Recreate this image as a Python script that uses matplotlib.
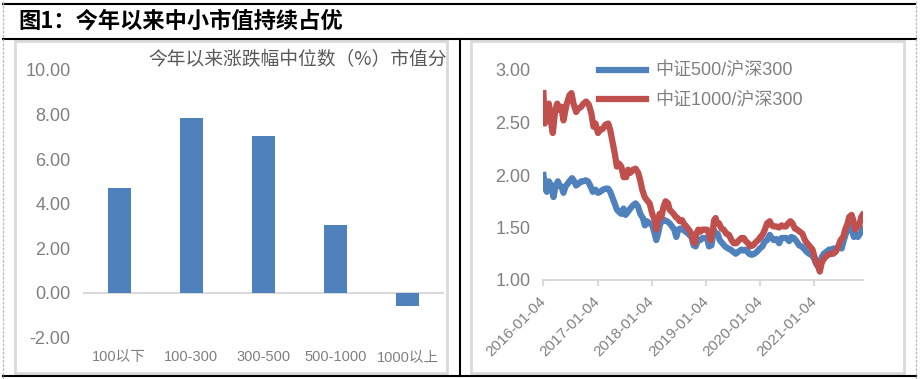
import matplotlib
matplotlib.use('Agg')
import matplotlib.pyplot as plt
from matplotlib.lines import Line2D
from matplotlib.patches import Rectangle

# 字体：西文用 Liberation Sans，中文回退到 Noto Sans CJK SC
plt.rcParams['font.family'] = ['Liberation Sans', 'Noto Sans CJK SC']
plt.rcParams['axes.unicode_minus'] = True

# ---------------- 数据 ----------------
# 左图：今年以来涨跌幅中位数（%），按市值分组（亿元）
groups = ['100以下', '100-300', '300-500', '500-1000', '1000以上']
median_chg = [4.69, 7.84, 7.04, 3.04, -0.58]

# 右图：中证500/沪深300 与 中证1000/沪深300（横轴为交易日序号）
zz500_day = [0, 6, 15, 24, 35, 45, 54, 65, 72, 81, 90, 99, 110, 120, 129, 138, 147, 159,
             170, 180, 189, 200, 210, 222, 234, 245, 255, 267, 279, 291, 300, 309, 320,
             330, 339, 350, 360, 369, 380, 390, 402, 414, 425, 435, 447, 456, 465, 477,
             489, 500, 507, 515, 525, 534, 545, 555, 567, 578, 588, 597, 606, 615, 627,
             639, 651, 665, 675, 684, 695, 705, 714, 725, 735, 744, 755, 765, 774, 783,
             792, 804, 816, 830, 840, 852, 864, 876, 890, 900, 912, 924, 936, 948, 960,
             972, 984, 995, 1005, 1017, 1026, 1035, 1047, 1059, 1070, 1080, 1092, 1104,
             1114, 1125, 1137, 1149, 1160, 1170, 1182, 1194, 1204, 1215, 1224, 1233,
             1242, 1251, 1260, 1272, 1284, 1294, 1305, 1317, 1329, 1340, 1350, 1359,
             1368, 1377, 1386, 1395, 1404, 1413, 1422, 1434]
zz500_ratio = [2.00, 1.89, 1.84, 1.94, 1.90, 1.79, 1.89, 1.94, 1.90, 1.89, 1.83, 1.89,
               1.92, 1.95, 1.97, 1.94, 1.90, 1.92, 1.94, 1.94, 1.95, 1.94, 1.90, 1.84,
               1.86, 1.83, 1.84, 1.86, 1.87, 1.87, 1.84, 1.79, 1.73, 1.67, 1.65, 1.63,
               1.68, 1.62, 1.65, 1.68, 1.71, 1.73, 1.70, 1.63, 1.59, 1.52, 1.56, 1.54,
               1.52, 1.44, 1.38, 1.44, 1.54, 1.56, 1.57, 1.56, 1.54, 1.51, 1.48, 1.41,
               1.48, 1.49, 1.48, 1.46, 1.44, 1.41, 1.33, 1.32, 1.38, 1.38, 1.40, 1.40,
               1.40, 1.32, 1.33, 1.48, 1.44, 1.44, 1.38, 1.35, 1.32, 1.30, 1.29, 1.27,
               1.25, 1.27, 1.29, 1.28, 1.29, 1.25, 1.24, 1.25, 1.27, 1.30, 1.32, 1.37,
               1.38, 1.43, 1.40, 1.38, 1.39, 1.35, 1.40, 1.40, 1.40, 1.37, 1.41, 1.40,
               1.37, 1.33, 1.32, 1.30, 1.27, 1.25, 1.24, 1.21, 1.16, 1.13, 1.16, 1.22,
               1.25, 1.27, 1.29, 1.29, 1.30, 1.30, 1.32, 1.30, 1.38, 1.44, 1.48, 1.51,
               1.48, 1.41, 1.43, 1.41, 1.44, 1.48]
zz1000_day = [0, 6, 15, 24, 35, 42, 53, 62, 72, 80, 90, 99, 105, 117, 126, 135, 147, 156,
              170, 180, 192, 204, 215, 225, 234, 245, 255, 267, 279, 291, 300, 309, 320,
              330, 339, 350, 360, 372, 380, 390, 402, 414, 426, 435, 444, 455, 465, 477,
              489, 500, 507, 515, 522, 530, 540, 549, 560, 567, 576, 585, 594, 603, 612,
              623, 630, 642, 653, 665, 672, 680, 687, 696, 705, 714, 725, 735, 744, 750,
              759, 767, 774, 780, 789, 800, 810, 822, 834, 845, 855, 867, 879, 890, 900,
              909, 920, 930, 942, 954, 965, 975, 984, 995, 1005, 1017, 1026, 1035, 1047,
              1059, 1070, 1080, 1089, 1100, 1110, 1119, 1130, 1140, 1152, 1164, 1175,
              1185, 1197, 1209, 1218, 1227, 1235, 1242, 1250, 1257, 1268, 1280, 1290,
              1302, 1314, 1325, 1335, 1347, 1356, 1367, 1374, 1385, 1392, 1401, 1410,
              1419, 1428, 1434]
zz1000_ratio = [2.78, 2.49, 2.59, 2.68, 2.49, 2.40, 2.62, 2.68, 2.62, 2.65, 2.52, 2.62,
                2.68, 2.76, 2.78, 2.68, 2.60, 2.63, 2.65, 2.68, 2.70, 2.67, 2.59, 2.46,
                2.49, 2.40, 2.43, 2.44, 2.48, 2.49, 2.43, 2.33, 2.21, 2.08, 2.11, 2.08,
                1.98, 1.98, 2.05, 2.02, 2.05, 2.06, 2.02, 1.95, 1.86, 1.79, 1.76, 1.73,
                1.63, 1.57, 1.48, 1.57, 1.63, 1.60, 1.70, 1.75, 1.73, 1.67, 1.65, 1.63,
                1.60, 1.59, 1.56, 1.57, 1.54, 1.51, 1.48, 1.44, 1.38, 1.35, 1.44, 1.48,
                1.46, 1.48, 1.48, 1.48, 1.44, 1.38, 1.44, 1.57, 1.59, 1.54, 1.54, 1.49,
                1.48, 1.44, 1.43, 1.38, 1.35, 1.35, 1.38, 1.40, 1.40, 1.37, 1.35, 1.32,
                1.33, 1.36, 1.38, 1.41, 1.43, 1.48, 1.54, 1.56, 1.52, 1.51, 1.51, 1.50,
                1.52, 1.51, 1.51, 1.54, 1.56, 1.54, 1.49, 1.48, 1.46, 1.44, 1.38, 1.35,
                1.32, 1.29, 1.22, 1.16, 1.13, 1.08, 1.16, 1.19, 1.22, 1.24, 1.25, 1.25,
                1.27, 1.32, 1.38, 1.41, 1.48, 1.54, 1.60, 1.62, 1.57, 1.48, 1.51, 1.52,
                1.60, 1.62]
date_tick_day = [0, 244, 488, 731, 975, 1218]
date_tick_text = ['2016-01-04', '2017-01-04', '2018-01-04', '2019-01-04', '2020-01-04', '2021-01-04']

# ---------------- 样式 ----------------
W, H = 921, 379
grey = '#808080'
light = '#D9D9D9'
blue = '#4F81BD'
red = '#C0504D'


def fx(px):
    return px / W


def fy(py):
    return 1 - py / H


fig = plt.figure(figsize=(W / 100, H / 100), dpi=100)

# 外框线
for (x0, y0, x1, y1) in [(3, 4, 915, 4), (3, 39, 916, 39), (3, 376, 916, 376), (460, 39, 460, 376)]:
    fig.add_artist(Line2D([fx(x0), fx(x1)], [fy(y0), fy(y1)], color='black', lw=1.5))
for xx in (3, 916):
    fig.add_artist(Line2D([fx(xx), fx(xx)], [0, 1], color='#BFBFBF', lw=1, ls=(0, (2, 1))))
# 两个图表区的浅灰边框
for (x0, x1) in [(15, 447), (471, 904)]:
    fig.add_artist(Rectangle((fx(x0), fy(373)), fx(x1) - fx(x0), fy(41) - fy(373),
                             transform=fig.transFigure, fill=False, edgecolor=light, lw=2))

fig.text(fx(18), fy(21), '图1：今年以来中小市值持续占优', fontsize=16, fontweight='bold',
         color='black', ha='left', va='center', family=['Noto Sans CJK SC'])

# ---------------- 左图 ----------------
ax1 = fig.add_axes([fx(83), fy(337.5), fx(444) - fx(83), fy(70) - fy(337.5)])
ax1.bar(range(len(groups)), median_chg, width=0.32, color=blue, zorder=3)
ax1.axhline(0, color=light, lw=1.5, zorder=2)
ax1.set_xlim(-0.5, len(groups) - 0.5)
ax1.set_ylim(-2, 10)
ax1.set_yticks([-2, 0, 2, 4, 6, 8, 10])
ax1.set_yticklabels(['%.2f' % v for v in [-2, 0, 2, 4, 6, 8, 10]])
ax1.set_xticks(range(len(groups)))
ax1.set_xticklabels(groups)
for s in ax1.spines.values():
    s.set_visible(False)
ax1.tick_params(axis='both', length=0, colors=grey)
ax1.tick_params(axis='y', labelsize=13, pad=9)
ax1.tick_params(axis='x', labelsize=10.5, pad=9)
ax1.patch.set_alpha(0)

fig.text(fx(447), fy(60), '今年以来涨跌幅中位数（%）市值分', fontsize=13.5, color='#595959',
         ha='right', va='center', family=['Noto Sans CJK SC'])

# ---------------- 右图 ----------------
ax2 = fig.add_axes([fx(543), fy(280), fx(863) - fx(543), fy(70) - fy(280)])
ax2.plot(zz500_day, zz500_ratio, color=blue, lw=4.5, label='中证500/沪深300')
ax2.plot(zz1000_day, zz1000_ratio, color=red, lw=4.5, label='中证1000/沪深300')
ax2.set_xlim(-2, zz500_day[-1] + 2)
ax2.set_ylim(1, 3)
ax2.set_yticks([1.0, 1.5, 2.0, 2.5, 3.0])
ax2.set_yticklabels(['%.2f' % v for v in [1.0, 1.5, 2.0, 2.5, 3.0]])
ax2.set_xticks(date_tick_day)
ax2.set_xticklabels(date_tick_text, rotation=45, ha='right', va='center', rotation_mode='anchor')
for k in ['top', 'right', 'left']:
    ax2.spines[k].set_visible(False)
ax2.spines['bottom'].set_color(light)
ax2.spines['bottom'].set_linewidth(1.5)
ax2.tick_params(axis='y', length=0, colors=grey, labelsize=13, pad=9)
ax2.tick_params(axis='x', length=4, width=1.5, color=light, labelcolor=grey, labelsize=11, pad=10)
ax2.patch.set_alpha(0)

ax2.legend(loc='upper left', bbox_to_anchor=(fx(599), fy(63)), bbox_transform=fig.transFigure,
           frameon=False, fontsize=13, labelcolor=grey, handlelength=2.6, handletextpad=0.5,
           labelspacing=0.68, borderpad=0, borderaxespad=0)

fig.savefig('out.png', dpi=100)
